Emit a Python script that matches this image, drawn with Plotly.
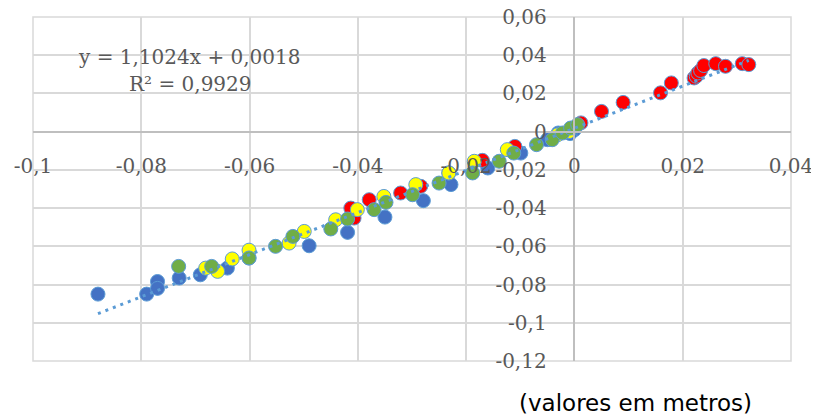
import plotly.graph_objects as go

# ---- data (metres) ----
blue_x = [-0.0880, -0.0790, -0.0770, -0.0770, -0.0730, -0.0691, -0.0641, -0.0601, -0.0490,
          -0.0419, -0.0350, -0.0279, -0.0228, -0.0160, -0.0099, -0.0050, -0.0030, 0.0000, -0.0008]
blue_y = [-0.0850, -0.0850, -0.0784, -0.0820, -0.0766, -0.0749, -0.0714, -0.0661, -0.0597,
          -0.0527, -0.0447, -0.0361, -0.0277, -0.0190, -0.0112, -0.0042, -0.0007, 0.0010, -0.0010]

red_x = [-0.0413, -0.0407, -0.0379, -0.0321, -0.0284, -0.0232, -0.0170, -0.0110, 0.0012,
         0.0050, 0.0090, 0.0159, 0.0179, 0.0221, 0.0225, 0.0228, 0.0233, 0.0239, 0.0261,
         0.0279, 0.0310, 0.0322]
red_y = [-0.0400, -0.0452, -0.0356, -0.0321, -0.0286, -0.0216, -0.0150, -0.0077, 0.0046,
         0.0106, 0.0153, 0.0203, 0.0255, 0.0281, 0.0290, 0.0307, 0.0320, 0.0346, 0.0356,
         0.0342, 0.0356, 0.0351]

yellow_x = [-0.0681, -0.0659, -0.0632, -0.0601, -0.0527, -0.0499, -0.0441, -0.0401, -0.0352,
            -0.0293, -0.0232, -0.0185, -0.0124, -0.0031, -0.0010]
yellow_y = [-0.0714, -0.0731, -0.0666, -0.0620, -0.0583, -0.0522, -0.0461, -0.0408, -0.0339,
            -0.0277, -0.0216, -0.0155, -0.0094, -0.0016, 0.0000]

green_x = [-0.0731, -0.0670, -0.0601, -0.0552, -0.0520, -0.0450, -0.0419, -0.0370, -0.0348,
           -0.0299, -0.0250, -0.0188, -0.0139, -0.0112, -0.0070, -0.0041, -0.0022, -0.0007, 0.0006]
green_y = [-0.0705, -0.0705, -0.0661, -0.0600, -0.0548, -0.0509, -0.0457, -0.0408, -0.0370,
           -0.0330, -0.0269, -0.0216, -0.0155, -0.0112, -0.0068, -0.0042, -0.0007, 0.0019, 0.0037]

slope = 1.1024
intercept = 0.0018
equation_text = "y = 1,1024x + 0,0018"
r2_text = "R² = 0,9929"
unit_text = "(valores em metros)"

x_ticks = [-0.1, -0.08, -0.06, -0.04, -0.02, 0, 0.02, 0.04]
x_tick_labels = ["-0,1", "-0,08", "-0,06", "-0,04", "-0,02", "0", "0,02", "0,04"]
y_ticks = [-0.12, -0.1, -0.08, -0.06, -0.04, -0.02, 0, 0.02, 0.04, 0.06]
y_tick_labels = ["-0,12", "-0,1", "-0,08", "-0,06", "-0,04", "-0,02", "0", "0,02", "0,04", "0,06"]

x_range = [-0.1, 0.04]
y_range = [-0.12, 0.06]

# ---- layout geometry (page has an 8px body margin) ----
W, H = 811, 410
L, R, T, B = 25, 28, 9, 57
pw, ph = W - L - R, H - T - B


def to_paper(px, py):
    # px, py are page pixel positions; convert to figure paper coords
    return (px - 8 - L) / pw, 1 - (py - 8 - T) / ph


# ---- figure ----
fig = go.Figure()
border = dict(color="#5B9BD5", width=1)
for xs, ys, col in [(blue_x, blue_y, "#4472C4"), (red_x, red_y, "#FF0000"),
                    (yellow_x, yellow_y, "#FFFF00"), (green_x, green_y, "#70AD47")]:
    fig.add_trace(go.Scatter(x=xs, y=ys, mode="markers",
                             marker=dict(size=14, color=col, line=border),
                             showlegend=False, hoverinfo="x+y"))

all_x = blue_x + red_x + yellow_x + green_x
tx = [min(all_x), max(all_x)]
ty = [slope * v + intercept for v in tx]
fig.add_trace(go.Scatter(x=tx, y=ty, mode="lines",
                         line=dict(color="#5B9BD5", width=3, dash="3px,5px"),
                         showlegend=False, hoverinfo="skip"))

tick_font = dict(family="DejaVu Serif", size=20, color="#595959")
grid = "#D9D9D9"

anns = []
for txt, px, py in [(equation_text, 189, 57), (r2_text, 190, 84)]:
    xp, yp = to_paper(px, py)
    anns.append(dict(x=xp, y=yp, xref="paper", yref="paper", text=txt, showarrow=False,
                     xanchor="center", yanchor="middle",
                     font=dict(family="DejaVu Serif", size=20, color="#595959")))
xp, yp = to_paper(635, 403)
anns.append(dict(x=xp, y=yp, xref="paper", yref="paper", text=unit_text, showarrow=False,
                 xanchor="center", yanchor="middle",
                 font=dict(family="DejaVu Sans", size=23, color="#000000")))

fig.update_layout(
    width=W, height=H,
    margin=dict(l=L, r=R, t=T, b=B, autoexpand=False),
    plot_bgcolor="white", paper_bgcolor="white",
    xaxis=dict(range=x_range, tickvals=x_ticks, ticktext=x_tick_labels,
               showgrid=True, gridcolor=grid, gridwidth=1.5, zeroline=False,
               showline=True, linecolor="#BFBFBF", linewidth=1.5,
               anchor="free", position=(0 - y_range[0]) / (y_range[1] - y_range[0]),
               ticks="", ticklabelstandoff=17, tickfont=tick_font, fixedrange=True,
               ticklabeloverflow="allow"),
    yaxis=dict(range=y_range, tickvals=y_ticks, ticktext=y_tick_labels,
               showgrid=True, gridcolor=grid, gridwidth=1.5, zeroline=False,
               showline=True, linecolor="#BFBFBF", linewidth=1.5,
               anchor="free", position=(0 - x_range[0]) / (x_range[1] - x_range[0]),
               ticks="", ticklabelstandoff=23, tickfont=tick_font, fixedrange=True,
               ticklabeloverflow="allow"),
    shapes=[dict(type="rect", xref="paper", yref="paper", x0=0, y0=0, x1=1, y1=1,
                 line=dict(color=grid, width=1.5), fillcolor="rgba(0,0,0,0)", layer="below")],
    annotations=anns,
)

fig.write_html("out.html")
